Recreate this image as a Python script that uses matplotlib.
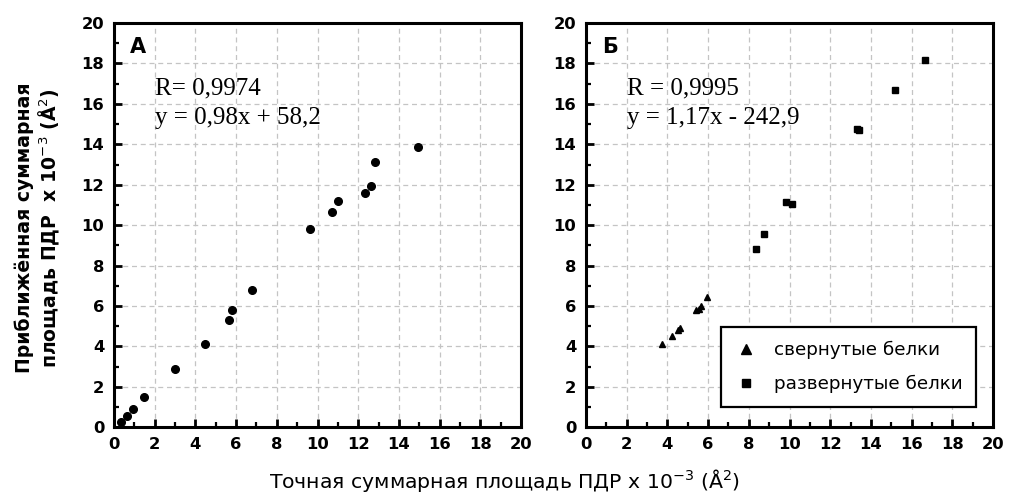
import matplotlib
matplotlib.use('Agg')
import matplotlib.pyplot as plt
from matplotlib.ticker import MultipleLocator

# Panel A: all proteins (x = exact area, y = approximated area), x 10^-3
a_x = [0.33, 0.62, 0.92, 1.49, 2.99, 4.47, 5.67, 5.78, 6.80,
       9.62, 10.73, 11.02, 12.35, 12.63, 12.81, 14.92]
a_y = [0.28, 0.56, 0.89, 1.51, 2.87, 4.13, 5.32, 5.78, 6.80,
       9.80, 10.63, 11.20, 11.61, 11.94, 13.13, 13.87]

# Panel B: folded proteins (triangles)
folded_x = [3.75, 4.24, 4.52, 4.62, 5.41, 5.57, 5.67, 5.95]
folded_y = [4.13, 4.53, 4.83, 4.89, 5.78, 5.86, 5.98, 6.44]

# Panel B: unfolded proteins (squares)
unfolded_x = [8.34, 8.73, 9.81, 10.11, 13.33, 13.41, 15.20, 16.66]
unfolded_y = [8.80, 9.55, 11.15, 11.05, 14.78, 14.73, 16.67, 18.16]

ticks = list(range(0, 21, 2))

fig = plt.figure(figsize=(10.1, 4.98), dpi=100)
ax1 = fig.add_axes([0.1129, 0.1420, 0.4030, 0.8118])
ax2 = fig.add_axes([0.5802, 0.1420, 0.4030, 0.8118])

for ax in (ax1, ax2):
    ax.set_xlim(0, 20)
    ax.set_ylim(0, 20)
    ax.set_xticks(ticks)
    ax.set_yticks(ticks)
    ax.xaxis.set_minor_locator(MultipleLocator(1))
    ax.yaxis.set_minor_locator(MultipleLocator(1))
    ax.tick_params(which='major', direction='in', length=6, width=2,
                   labelsize=11.8, pad=7)
    ax.tick_params(which='minor', direction='in', length=3.5, width=1.6)
    for lbl in ax.get_xticklabels() + ax.get_yticklabels():
        lbl.set_fontweight('bold')
        lbl.set_fontfamily('DejaVu Sans')
    ax.grid(True, which='major', color='#c4c4c4', linestyle=(0, (4, 3)),
            linewidth=0.9)
    ax.set_axisbelow(True)
    for sp in ax.spines.values():
        sp.set_linewidth(2.2)
        sp.set_color('black')

ax1.plot(a_x, a_y, 'o', color='black', markersize=5.5, linestyle='none')
ax1.text(0.04, 0.965, 'A', transform=ax1.transAxes, fontsize=15,
         fontweight='bold', va='top', ha='left', family='DejaVu Sans')
ax1.text(0.1, 0.838, 'R= 0,9974', transform=ax1.transAxes,
         fontsize=18, family='Liberation Serif', va='center')
ax1.text(0.1, 0.765, 'y = 0,98x + 58,2', transform=ax1.transAxes,
         fontsize=18, family='Liberation Serif', va='center')

ax2.plot(folded_x, folded_y, '^', color='black', markersize=5,
         linestyle='none', label='свернутые белки')
ax2.plot(unfolded_x, unfolded_y, 's', color='black', markersize=4.2,
         linestyle='none', label='развернутые белки')
ax2.text(0.04, 0.965, 'Б', transform=ax2.transAxes, fontsize=15,
         fontweight='bold', va='top', ha='left', family='DejaVu Sans')
ax2.text(0.1, 0.838, 'R = 0,9995', transform=ax2.transAxes,
         fontsize=18, family='Liberation Serif', va='center')
ax2.text(0.1, 0.765, 'y = 1,17x - 242,9', transform=ax2.transAxes,
         fontsize=18, family='Liberation Serif', va='center')

leg = ax2.legend(loc='lower right', bbox_to_anchor=(0.958, 0.05),
                 borderaxespad=0, frameon=True, fancybox=False,
                 edgecolor='black', framealpha=1,
                 prop={'family': 'DejaVu Sans', 'size': 13.2},
                 handletextpad=0.9, borderpad=0.75, labelspacing=0.85,
                 handlelength=1.2, markerscale=1.3)
leg.get_frame().set_linewidth(1.6)

fig.text(0.5, 0.035, 'Точная суммарная площадь ПДР x 10$^{-3}$ (Å$^2$)',
         ha='center', va='center', fontsize=14.7, family='DejaVu Sans')
fig.text(0.038, 0.543,
         'Приближённая суммарная\nплощадь ПДР  x 10$^{-3}$ (Å$^2$)',
         ha='center', va='center', rotation=90, fontsize=13.6,
         family='DejaVu Sans', fontweight='bold', linespacing=1.15)

fig.savefig('out.png', dpi=100)
